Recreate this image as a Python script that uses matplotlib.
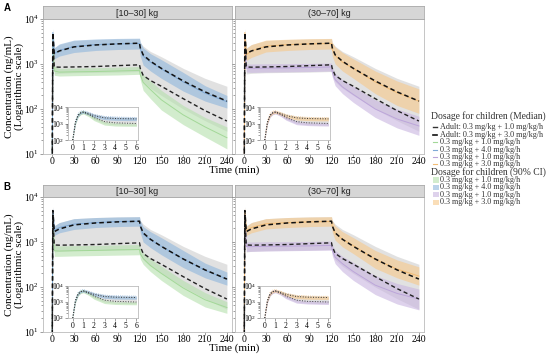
import numpy as np
import matplotlib
matplotlib.use('Agg')
import matplotlib.pyplot as plt
from matplotlib.lines import Line2D
from matplotlib.patches import Rectangle

plt.rcParams['font.family'] = ['Liberation Serif', 'DejaVu Serif']
plt.rcParams['mathtext.fontset'] = 'stix'

# time grid of the main panels (min)
T = [0, 1, 3, 10, 30, 60, 90, 120, 121, 125, 135, 150, 180, 210, 240]
# adult medians
AD1 = [1, 4000, 860, 850, 860, 880, 920, 960, 800, 560, 430, 320, 170, 92, 54]
AD3 = [1, 5000, 1700, 1950, 2400, 2650, 2800, 2900, 2300, 1600, 1150, 800, 420, 240, 150]
# adult 90% CI (grey)
GH = [1, 6000, 2300, 2700, 3300, 3500, 3600, 3650, 3000, 2500, 1900, 1450, 800, 480, 320]
GL = [1, 3000, 600, 620, 640, 650, 660, 680, 560, 400, 290, 200, 100, 55, 32]

# row A, [10-30] kg
A_G_hi = [1, 5000, 900, 800, 810, 830, 850, 880, 750, 580, 420, 260, 120, 65, 40]
A_G_md = [1, 4000, 700, 660, 670, 680, 700, 720, 580, 390, 270, 160, 74, 40, 23]
A_G_lo = [1, 3000, 560, 540, 550, 560, 570, 590, 450, 260, 170, 95, 45, 24, 13]
A_B_hi = [1, 6000, 2300, 2800, 3400, 3600, 3700, 3750, 3100, 2300, 1700, 1250, 650, 330, 200]
A_B_md = [1, 5000, 1700, 2000, 2450, 2700, 2800, 2850, 2200, 1500, 1100, 780, 400, 225, 145]
A_B_lo = [1, 4000, 1300, 1500, 1800, 2000, 2100, 2150, 1500, 950, 700, 480, 250, 150, 105]
# row A, (30-70] kg
A_P_hi = [1, 5000, 1000, 1000, 1010, 1020, 1030, 1050, 850, 620, 450, 320, 160, 100, 69]
A_P_md = [1, 4000, 810, 800, 810, 820, 840, 860, 660, 450, 310, 210, 100, 60, 42]
A_P_lo = [1, 3000, 660, 650, 660, 670, 680, 700, 520, 330, 220, 140, 65, 38, 26]
A_O_hi = [1, 6000, 2200, 2700, 3400, 3550, 3650, 3700, 3000, 2400, 1800, 1300, 700, 420, 280]
A_O_md = [1, 5000, 1600, 1950, 2500, 2700, 2800, 2850, 2100, 1550, 1100, 800, 400, 230, 150]
A_O_lo = [1, 4000, 1200, 1400, 1850, 2000, 2100, 2150, 1500, 1000, 700, 480, 220, 120, 80]

# row B, [10-30] kg
B_G_hi = [1, 5000, 850, 820, 830, 840, 860, 880, 720, 580, 420, 290, 140, 75, 47]
B_G_md = [1, 4000, 640, 630, 640, 650, 670, 680, 550, 430, 300, 200, 95, 52, 35]
B_G_lo = [1, 3000, 480, 480, 490, 500, 510, 520, 420, 320, 220, 140, 65, 36, 26]
B_B_hi = [1, 6000, 2300, 2700, 3300, 3500, 3600, 3650, 3000, 2200, 1700, 1250, 650, 340, 215]
B_B_md = [1, 5000, 1800, 2100, 2500, 2700, 2850, 2900, 2200, 1500, 1120, 800, 420, 235, 150]
B_B_lo = [1, 4000, 1400, 1600, 1900, 2100, 2200, 2250, 1600, 1000, 750, 520, 270, 160, 110]
# row B, (30-70] kg
B_P_hi = [1, 5000, 1000, 1000, 1010, 1020, 1030, 1050, 870, 650, 480, 350, 180, 120, 90]
B_P_md = [1, 4000, 790, 790, 800, 810, 820, 840, 660, 460, 330, 220, 110, 72, 54]
B_P_lo = [1, 3000, 620, 620, 630, 640, 650, 660, 500, 330, 220, 140, 68, 42, 31]
B_O_hi = [1, 6000, 2200, 2700, 3300, 3500, 3600, 3650, 3000, 2300, 1700, 1250, 650, 400, 280]
B_O_md = [1, 5000, 1750, 2100, 2550, 2700, 2800, 2850, 2200, 1600, 1150, 830, 410, 250, 175]
B_O_lo = [1, 4000, 1400, 1600, 1950, 2100, 2200, 2250, 1650, 1100, 780, 550, 260, 160, 110]

# inset: first 6 min
TI = [0, 0.25, 0.5, 0.75, 1, 1.5, 2, 3, 4, 5, 6]
I_AD3 = [100, 1200, 3200, 4500, 5000, 4000, 3000, 2200, 2000, 1950, 1900]
I_AD1 = [100, 1100, 3000, 4300, 4800, 3500, 2300, 1300, 1100, 1050, 1000]
I_GH = [100, 1500, 4000, 5500, 6000, 5000, 3800, 2800, 2500, 2400, 2400]
I_GL = [100, 900, 2500, 3600, 4000, 2900, 1800, 1000, 850, 800, 780]
I_B_hi = [100, 1500, 4000, 5500, 6000, 4800, 3600, 2700, 2500, 2400, 2350]
I_B_lo = [100, 1000, 2700, 3800, 4200, 3300, 2400, 1700, 1550, 1500, 1500]
I_G_hi = [100, 1300, 3600, 5000, 5500, 3800, 2400, 1200, 1000, 950, 950]
I_G_lo = [100, 900, 2400, 3400, 3800, 2600, 1500, 800, 700, 680, 670]
I_O_hi = [100, 1500, 4000, 5500, 6000, 4700, 3500, 2600, 2400, 2300, 2300]
I_O_lo = [100, 1000, 2700, 3800, 4200, 3200, 2300, 1650, 1500, 1450, 1450]
I_P_hi = [100, 1300, 3600, 5000, 5500, 3900, 2500, 1300, 1100, 1050, 1050]
I_P_lo = [100, 900, 2400, 3400, 3800, 2700, 1600, 850, 750, 720, 700]

strips = ['[10\u201330] kg', '(30\u201370] kg']
xticks = [0, 30, 60, 90, 120, 150, 180, 210, 240]
med_title = 'Dosage for children (Median)'
med_labels = ['Adult: 0.3 mg/kg + 1.0 mg/kg/h', 'Adult: 0.3 mg/kg + 3.0 mg/kg/h',
              '0.3 mg/kg + 1.0 mg/kg/h', '0.3 mg/kg + 4.0 mg/kg/h',
              '0.3 mg/kg + 1.0 mg/kg/h', '0.3 mg/kg + 3.0 mg/kg/h']
ci_title = 'Dosage for children (90% CI)'
ci_labels = ['0.3 mg/kg + 1.0 mg/kg/h', '0.3 mg/kg + 4.0 mg/kg/h',
             '0.3 mg/kg + 1.0 mg/kg/h', '0.3 mg/kg + 3.0 mg/kg/h']

c_green, c_blue, c_purple, c_orange = '#B5E0AC', '#8FB6DC', '#C8B4E0', '#F7C88A'
l_green, l_blue, l_purple, l_orange = '#A3D898', '#7FA9D6', '#BCA5DA', '#F3BC74'
c_grey = '#DADADA'
frame = '#BBBBBB'
txt = '#333333'

fig = plt.figure(figsize=(5.5, 3.56), dpi=100)
W, H = 550.0, 356.0


def box(x0, y0, x1, y1):
    return [x0 / W, 1 - y1 / H, (x1 - x0) / W, (y1 - y0) / H]


def style(ax, fs):
    for s in ax.spines.values():
        s.set_color(frame)
        s.set_linewidth(0.6)
    ax.tick_params(which='both', color='#555555', width=0.4, labelsize=fs, pad=1)
    ax.tick_params(which='major', length=2)
    ax.tick_params(which='minor', length=1.2)
    ax.tick_params(axis='x', which='minor', bottom=False)


def main_panel(ax, bands, labels_y):
    ax.set_yscale('log')
    ax.fill_between(T, GL, GH, color=c_grey, alpha=0.8, lw=0)
    for lo, md, hi, cf, cl in bands:
        ax.fill_between(T, lo, hi, color=cf, alpha=0.6, lw=0)
    for lo, md, hi, cf, cl in bands:
        ax.plot(T, md, color=cl, lw=0.7)
    ax.plot(T, AD1, color='#222222', lw=1.0, ls=(0, (3, 2)))
    ax.plot(T, AD3, color='#111111', lw=1.1, ls=(0, (3, 2)))
    ax.set_xlim(-12.5, 247)
    ax.set_ylim(10, 1e4)
    ax.set_xticks(xticks)
    style(ax, 7)
    ax.tick_params(axis='x', pad=0.5)
    if not labels_y:
        ax.set_yticklabels([])


def inset(ax, bands):
    ax.set_yscale('log')
    ax.fill_between(TI, I_GL, I_GH, color=c_grey, alpha=0.8, lw=0)
    for lo, hi, cf, cl in bands:
        ax.fill_between(TI, lo, hi, color=cf, alpha=0.6, lw=0)
    for lo, hi, cf, cl in bands:
        ax.plot(TI, hi, color=cl, lw=0.5, ls=':')
    ax.plot(TI, I_AD1, color='#444444', lw=0.7, ls=':')
    ax.plot(TI, I_AD3, color='#333333', lw=0.7, ls=':')
    ax.set_xlim(-0.45, 6.15)
    ax.set_ylim(100, 1e4)
    ax.set_xticks(range(7))
    style(ax, 5.5)


rows = [
    (19, 154, 6, 'A', [(A_G_lo, A_G_md, A_G_hi, c_green, l_green), (A_B_lo, A_B_md, A_B_hi, c_blue, l_blue)],
     [(A_P_lo, A_P_md, A_P_hi, c_purple, l_purple), (A_O_lo, A_O_md, A_O_hi, c_orange, l_orange)], 107, 140),
    (197, 332, 185, 'B', [(B_G_lo, B_G_md, B_G_hi, c_green, l_green), (B_B_lo, B_B_md, B_B_hi, c_blue, l_blue)],
     [(B_P_lo, B_P_md, B_P_hi, c_purple, l_purple), (B_O_lo, B_O_md, B_O_hi, c_orange, l_orange)], 286, 318),
]
inset_bands = [
    [(I_G_lo, I_G_hi, c_green, l_green), (I_B_lo, I_B_hi, c_blue, l_blue)],
    [(I_P_lo, I_P_hi, c_purple, l_purple), (I_O_lo, I_O_hi, c_orange, l_orange)],
]

for top, bot, stop, letter, bl, br, itop, ibot in rows:
    for k, (x0, x1, bands) in enumerate([(43, 232, bl), (235, 424, br)]):
        ax = fig.add_axes(box(x0, top, x1, bot))
        main_panel(ax, bands, k == 0)
        sax = fig.add_axes(box(x0, stop, x1, top))
        sax.set_xticks([]); sax.set_yticks([])
        sax.set_facecolor('#D6D6D6')
        for s in sax.spines.values():
            s.set_color('#AAAAAA')
            s.set_linewidth(0.6)
        sax.text(0.5, 0.45, strips[k], ha='center', va='center', fontsize=6.5,
                 family='Liberation Sans', color='#222222', transform=sax.transAxes)
        iax = fig.add_axes(box(x0 + 25, itop, x0 + 95, ibot))
        inset(iax, inset_bands[k])
    fig.text(7 / W, 1 - (stop + 2) / H, letter, fontsize=7, fontweight='bold',
             family='Liberation Sans', ha='center', va='center')
    fig.text(234 / W, 1 - (bot + 16) / H, 'Time (min)', fontsize=8, ha='center', va='center')
    fig.text(14 / W, 1 - (top + bot) / 2 / H, 'Concentration (ng/mL)\n(Logarithmic scale)',
             fontsize=8, rotation=90, ha='center', va='center', linespacing=1.05)

# legends, placed by hand
def fy(y):
    return 1 - y / H

fig.text(431 / W, fy(116), med_title, fontsize=6.9, color=txt, va='center', ha='left')
med_styles = [('#333333', 1.0, (0, (3, 2))), ('#111111', 1.2, (0, (3, 2))),
              (l_green, 0.8, '-'), (l_blue, 0.8, '-'), (l_purple, 0.8, '-'), (l_orange, 0.8, '-')]
for i, (lab, (c, lw, ls)) in enumerate(zip(med_labels, med_styles)):
    y = 127 + 7.5 * i
    fig.add_artist(Line2D([433 / W, 437 / W], [fy(y), fy(y)], color=c, lw=lw,
                          transform=fig.transFigure))
    fig.text(440 / W, fy(y), lab, fontsize=5.9, color=txt, va='center', ha='left')

fig.text(431 / W, fy(172), ci_title, fontsize=6.9, color=txt, va='center', ha='left')
for i, (lab, c) in enumerate(zip(ci_labels, [c_green, c_blue, c_purple, c_orange])):
    y = 180 + 7.4 * i
    fig.add_artist(Rectangle((433 / W, fy(y + 2.6)), 5.5 / W, 5.2 / H, color=c, alpha=0.6,
                             lw=0, transform=fig.transFigure))
    fig.text(440 / W, fy(y), lab, fontsize=5.9, color=txt, va='center', ha='left')

fig.savefig('out.png', dpi=100)
